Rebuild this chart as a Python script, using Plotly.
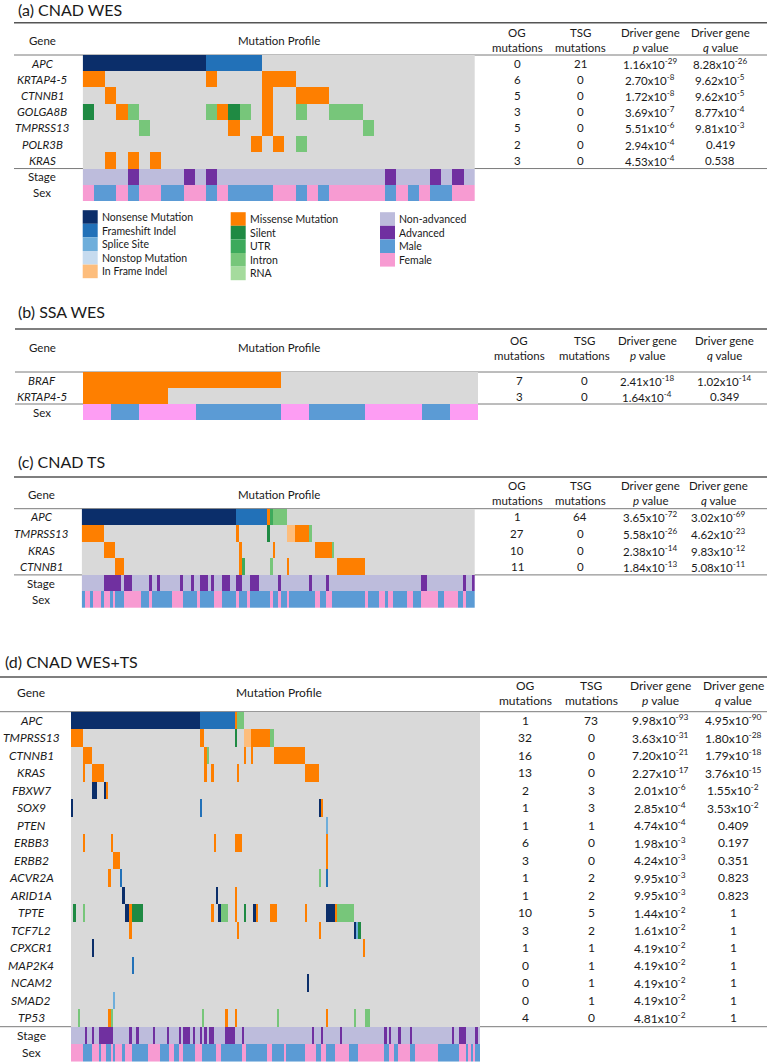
import plotly.graph_objects as go

W, H = 767, 1064

# category codes used in the mutation / clinical tracks
NONE, NS, FS, SP, NT, IF, MS, SI, UT, IN, RN, NADV, ADV, MALE, FEM = range(15)
cat_colors = ["#d9d9d9", "#0b2e6a", "#2271b8", "#6eaedb", "#c6dbef", "#fdbd7c",
              "#fe7f00", "#1f8a43", "#3daa5c", "#77c67a", "#a5db9d",
              "#bdbcdc", "#7030a0", "#5b9bd5", "#f79bd2"]

legend_cols = [
    [("Nonsense Mutation", NS), ("Frameshift Indel", FS), ("Splice Site", SP),
     ("Nonstop Mutation", NT), ("In Frame Indel", IF)],
    [("Missense Mutation", MS), ("Silent", SI), ("UTR", UT), ("Intron", IN), ("RNA", RN)],
    [("Non-advanced", NADV), ("Advanced", ADV), ("Male", MALE), ("Female", FEM)],
]

# ---------------- (a) CNAD WES ----------------
a_n = 35
a_genes = ["APC", "KRTAP4-5", "CTNNB1", "GOLGA8B", "TMPRSS13", "POLR3B", "KRAS"]
a_muts = [
    [(0, 11, NS), (11, 5, FS)],
    [(0, 2, MS), (11, 1, MS), (16, 3, MS)],
    [(2, 1, MS), (16, 1, MS), (19, 3, MS)],
    [(0, 1, SI), (3, 1, MS), (4, 1, IN), (11, 1, IN), (12, 1, MS), (13, 1, SI),
     (14, 1, IN), (16, 1, MS), (19, 1, IN), (22, 3, IN)],
    [(5, 1, IN), (13, 1, MS), (16, 1, MS), (25, 1, IN)],
    [(15, 1, MS), (17, 1, MS), (19, 1, IN)],
    [(2, 1, MS), (4, 1, MS), (6, 1, MS)],
]
a_adv = [(4, 1), (9, 1), (11, 1), (27, 1), (31, 1), (33, 1)]
a_female = [(0, 1), (3, 1), (5, 2), (9, 2), (12, 1), (17, 2), (20, 1), (22, 5),
            (28, 1), (30, 1), (33, 2)]
a_og = [0, 6, 5, 3, 5, 2, 3]
a_tsg = [21, 0, 0, 0, 0, 0, 0]
a_p = ["1.16e-29", "2.70e-8", "1.72e-8", "3.69e-7", "5.51e-6", "2.94e-4", "4.53e-4"]
a_q = ["8.28e-26", "9.62e-5", "9.62e-5", "8.77e-4", "9.81e-3", "0.419", "0.538"]

# ---------------- (b) SSA WES ----------------
b_n = 14
b_genes = ["BRAF", "KRTAP4-5"]
b_muts = [[(0, 7, MS)], [(0, 3, MS)]]
b_female = [(0, 1), (2, 2), (7, 1), (10, 2), (13, 1)]
b_og = [7, 3]
b_tsg = [0, 0]
b_p = ["2.41e-18", "1.64e-4"]
b_q = ["1.02e-14", "0.349"]

# ---------------- (c) CNAD TS ----------------
c_n = 140
c_genes = ["APC", "TMPRSS13", "KRAS", "CTNNB1"]
c_muts = [
    [(0, 55, NS), (55, 11, FS), (66, 1, MS), (67, 1, UT), (68, 5, IN)],
    [(0, 8, MS), (55, 1, MS), (66, 1, SI), (73, 3, IF), (76, 5, MS), (81, 1, IN)],
    [(8, 4, MS), (56, 1, MS), (68, 1, MS), (83, 6, MS), (89, 1, IN)],
    [(12, 3, MS), (56, 1, MS), (57, 1, UT), (67, 1, IN), (73, 1, MS), (91, 10, MS)],
]
c_adv = [(8, 6), (15, 3), (24, 1), (27, 1), (35, 1), (39, 1), (42, 3), (46, 1),
         (50, 3), (55, 2), (60, 3), (70, 1), (81, 1), (87, 1), (121, 2), (136, 1), (139, 1)]
c_female = [(1, 2), (4, 3), (8, 2), (11, 1), (15, 6), (24, 1), (32, 4), (41, 1),
            (47, 3), (55, 1), (59, 1), (67, 1), (70, 1), (73, 1), (83, 2), (87, 2),
            (101, 1), (106, 2), (109, 2), (116, 2), (121, 6), (129, 5), (136, 1)]
c_og = [1, 27, 10, 11]
c_tsg = [64, 0, 0, 0]
c_p = ["3.65e-72", "5.58e-26", "2.38e-14", "1.84e-13"]
c_q = ["3.02e-69", "4.62e-23", "9.83e-12", "5.08e-11"]

# ---------------- (d) CNAD WES+TS ----------------
d_n = 175
d_genes = ["APC", "TMPRSS13", "CTNNB1", "KRAS", "FBXW7", "SOX9", "PTEN", "ERBB3",
           "ERBB2", "ACVR2A", "ARID1A", "TPTE", "TCF7L2", "CPXCR1", "MAP2K4",
           "NCAM2", "SMAD2", "TP53"]
d_muts = [
    [(0, 55, NS), (55, 15, FS), (70, 1, MS), (71, 3, IN)],
    [(0, 5, MS), (55, 2, MS), (70, 1, SI), (74, 3, IF), (77, 8, MS), (85, 2, IN)],
    [(5, 4, MS), (57, 1, MS), (58, 1, IN), (74, 1, MS), (77, 1, MS), (87, 13, MS)],
    [(5, 1, MS), (9, 5, MS), (57, 1, MS), (60, 1, MS), (71, 1, MS), (100, 6, MS)],
    [(9, 2, NS), (14, 1, NS), (15, 1, MS)],
    [(0, 1, NS), (55, 1, FS), (106, 1, NS), (107, 1, MS)],
    [(109, 1, SP)],
    [(5, 1, MS), (17, 1, MS), (61, 1, MS), (70, 3, MS), (109, 1, MS)],
    [(18, 3, MS), (109, 1, MS)],
    [(16, 1, MS), (21, 1, FS), (106, 1, IN), (109, 1, FS)],
    [(22, 1, NS), (62, 1, NS), (70, 1, MS)],
    [(1, 1, SI), (5, 1, IN), (23, 2, NS), (25, 1, MS), (26, 5, SI), (60, 1, MS),
     (63, 1, NS), (64, 3, IN), (70, 1, MS), (74, 1, SI), (78, 1, NS), (79, 1, MS),
     (85, 3, MS), (100, 1, MS), (109, 4, NS), (113, 1, MS), (114, 7, IN)],
    [(25, 1, MS), (71, 1, MS), (106, 1, MS), (121, 1, NS), (122, 1, SP), (123, 1, SI)],
    [(9, 1, NS), (125, 1, MS)],
    [(26, 1, FS)],
    [(101, 1, NS)],
    [(18, 1, SP)],
    [(3, 1, IN), (16, 1, MS), (17, 1, IN), (56, 1, IN), (66, 1, MS), (70, 1, MS),
     (88, 1, IN), (109, 1, MS), (121, 1, IN), (126, 2, IN)],
]
d_adv = [(6, 1), (9, 1), (12, 6), (25, 1), (28, 1), (35, 1), (41, 1), (46, 1), (48, 3),
         (52, 1), (55, 1), (57, 1), (59, 2), (66, 4), (73, 1), (103, 1), (107, 1),
         (115, 1), (134, 1), (136, 1), (140, 1), (145, 1), (163, 1), (166, 3), (173, 1)]
d_female = [(0, 5), (9, 3), (13, 2), (17, 1), (19, 3), (23, 3), (33, 5), (42, 2),
            (46, 2), (53, 3), (62, 2), (73, 2), (84, 2), (91, 1), (100, 5), (107, 2),
            (113, 6), (123, 11), (136, 2), (140, 5), (147, 10), (166, 3), (170, 1), (172, 1)]
d_og = [1, 32, 16, 13, 2, 1, 1, 6, 3, 1, 1, 10, 3, 1, 0, 0, 0, 4]
d_tsg = [73, 0, 0, 0, 3, 3, 1, 0, 0, 2, 2, 5, 2, 1, 1, 1, 1, 0]
d_p = ["9.98e-93", "3.63e-31", "7.20e-21", "2.27e-17", "2.01e-6", "2.85e-4", "4.74e-4",
       "1.98e-3", "4.24e-3", "9.95e-3", "9.95e-3", "1.44e-2", "1.61e-2", "4.19e-2",
       "4.19e-2", "4.19e-2", "4.19e-2", "4.81e-2"]
d_q = ["4.95e-90", "1.80e-28", "1.79e-18", "3.76e-15", "1.55e-2", "3.53e-2", "0.409",
       "0.197", "0.351", "0.823", "0.823", "1", "1", "1", "1", "1", "1", "1"]


# layout boxes, in pixels of the 767x1064 page
panels = [
    dict(title="(a) CNAD WES", n=a_n, genes=a_genes, muts=a_muts, adv=a_adv, female=a_female,
         og=a_og, tsg=a_tsg, p=a_p, q=a_q, fem_color="#f79bd2", fs=11.5,
         title_x=16, title_y=9, rule_x0=14, top_rule=22.7, head_y=40, head2=(32.5, 47),
         hm=(82.7, 475, 55, 201), label_x=42, cols=(517, 580, 650, 720)),
    dict(title="(b) SSA WES", n=b_n, genes=b_genes, muts=b_muts, adv=None, female=b_female,
         og=b_og, tsg=b_tsg, p=b_p, q=b_q, fem_color="#fd9df3", fs=11.5,
         title_x=16, title_y=312, rule_x0=15, top_rule=329, head_y=347, head2=(340, 355),
         hm=(83, 478, 372, 420), label_x=42, cols=(519, 584, 647, 724)),
    dict(title="(c) CNAD TS", n=c_n, genes=c_genes, muts=c_muts, adv=c_adv, female=c_female,
         og=c_og, tsg=c_tsg, p=c_p, q=c_q, fem_color="#f79bd2", fs=11.5,
         title_x=16, title_y=461, rule_x0=14, top_rule=477, head_y=494, head2=(485, 500),
         hm=(81.7, 475, 508.7, 608), label_x=41, cols=(517, 580, 650, 718)),
    dict(title="(d) CNAD WES+TS", n=d_n, genes=d_genes, muts=d_muts, adv=d_adv, female=d_female,
         og=d_og, tsg=d_tsg, p=d_p, q=d_q, fem_color="#f79bd2", fs=12,
         title_x=3, title_y=661.5, rule_x0=0, top_rule=677, head_y=692, head2=(685, 700),
         hm=(71, 480, 711.7, 1061.7), label_x=31, cols=(525, 591, 660, 733)),
]

FONT = "Lato, 'Open Sans', sans-serif"
TXT = "#1a1a1a"


def fmt(v):
    if "e" in v:
        m, e = v.split("e")
        return f"{m}x10<sup>{int(e)}</sup>"
    return v


def build_z(n, muts, adv, female):
    z = []
    for segs in muts:
        row = [NONE] * n
        for s, l, c in segs:
            for i in range(s, s + l):
                row[i] = c
        z.append(row)
    if adv is not None:
        row = [NADV] * n
        for s, l in adv:
            for i in range(s, s + l):
                row[i] = ADV
        z.append(row)
    row = [MALE] * n
    for s, l in female:
        for i in range(s, s + l):
            row[i] = FEM
    z.append(row)
    return z


def make_scale(colors):
    k = len(colors)
    cs = []
    for i, c in enumerate(colors):
        cs.append([i / k, c])
        cs.append([(i + 1) / k, c])
    return cs


fig = go.Figure()
annotations = []
shapes = []
layout_axes = {}


def px_x(x):
    return x / W


def px_y(y):
    return 1 - y / H


def add_text(text, x, y, size=11.5, xanchor="center", yref="paper", color=TXT):
    annotations.append(dict(text=text, x=px_x(x), y=(px_y(y) if yref == "paper" else y),
                            xref="paper", yref=yref, xanchor=xanchor, yanchor="middle",
                            showarrow=False, font=dict(family=FONT, size=size, color=color)))


def add_rule(y, x0, x1=W, color="#7a7a7a", width=1):
    shapes.append(dict(type="line", xref="paper", yref="paper", layer="below",
                       x0=px_x(x0), x1=px_x(x1), y0=px_y(y), y1=px_y(y),
                       line=dict(color=color, width=width)))


for k_i, pnl in enumerate(panels):
    sfx = "" if k_i == 0 else str(k_i + 1)
    z = build_z(pnl["n"], pnl["muts"], pnl["adv"], pnl["female"])
    nrows = len(z)
    x0, x1, y0, y1 = pnl["hm"]
    colors = cat_colors[:FEM] + [pnl["fem_color"]]
    fig.add_trace(go.Heatmap(z=z, x=list(range(pnl["n"])), y=list(range(nrows)),
                             zmin=-0.5, zmax=len(colors) - 0.5, colorscale=make_scale(colors),
                             showscale=False, hoverinfo="skip",
                             xaxis="x" + sfx, yaxis="y" + sfx))
    layout_axes["xaxis" + sfx] = dict(domain=[px_x(x0), px_x(x1)], range=[-0.5, pnl["n"] - 0.5],
                                      visible=False, fixedrange=True, anchor="y" + sfx)
    layout_axes["yaxis" + sfx] = dict(domain=[px_y(y1), px_y(y0)], range=[nrows - 0.5, -0.5],
                                      visible=False, fixedrange=True, anchor="x" + sfx)
    yref = "y" + sfx
    fs = pnl["fs"]

    # title and table rules
    add_text(pnl["title"], pnl["title_x"], pnl["title_y"], size=16, xanchor="left")
    add_rule(pnl["top_rule"], pnl["rule_x0"], color="#555555", width=1.5)
    add_rule(y0, pnl["rule_x0"])
    ng = len(pnl["genes"])
    row_h = (y1 - y0) / nrows
    add_rule(y0 + ng * row_h, pnl["rule_x0"])

    # header
    add_text("Gene", pnl["label_x"], pnl["head_y"], size=fs)
    add_text("Mutation Profile", 279, pnl["head_y"], size=fs)
    hdr1 = ["OG", "TSG", "Driver gene", "Driver gene"]
    hdr2 = ["mutations", "mutations", "<i>p</i> value", "<i>q</i> value"]
    for cx, t1, t2 in zip(pnl["cols"], hdr1, hdr2):
        add_text(t1, cx, pnl["head2"][0], size=fs)
        add_text(t2, cx, pnl["head2"][1], size=fs)

    # row labels and table values
    for i, g in enumerate(pnl["genes"]):
        add_text(f"<i>{g}</i>", pnl["label_x"], i, yref=yref, size=fs)
        vals = [str(pnl["og"][i]), str(pnl["tsg"][i]), fmt(pnl["p"][i]), fmt(pnl["q"][i])]
        for cx, v in zip(pnl["cols"], vals):
            add_text(v, cx, i, yref=yref, size=fs)
    extra = ["Stage", "Sex"] if pnl["adv"] is not None else ["Sex"]
    for j, lab in enumerate(extra):
        add_text(lab, pnl["label_x"], ng + j, yref=yref, size=fs)

# legend of panel (a)
leg_x = [82.7, 230.7, 380]
leg_y0 = [217, 219, 219]
leg_step = 13.6
for cx, cy, items in zip(leg_x, leg_y0, legend_cols):
    for j, (lab, code) in enumerate(items):
        yy = cy + j * leg_step
        shapes.append(dict(type="rect", xref="paper", yref="paper",
                           x0=px_x(cx), x1=px_x(cx + 15), y0=px_y(yy + 6.8), y1=px_y(yy - 6.8),
                           fillcolor=cat_colors[code], line=dict(width=0)))
        add_text(lab, cx + 17, yy, size=10.5, xanchor="left")

fig.update_layout(width=W, height=H, margin=dict(l=0, r=0, t=0, b=0),
                  paper_bgcolor="white", plot_bgcolor="white", showlegend=False,
                  annotations=annotations, shapes=shapes, **layout_axes)

fig.write_html("out.html", config={"displayModeBar": False},
               post_script="document.body.style.margin='0';")
